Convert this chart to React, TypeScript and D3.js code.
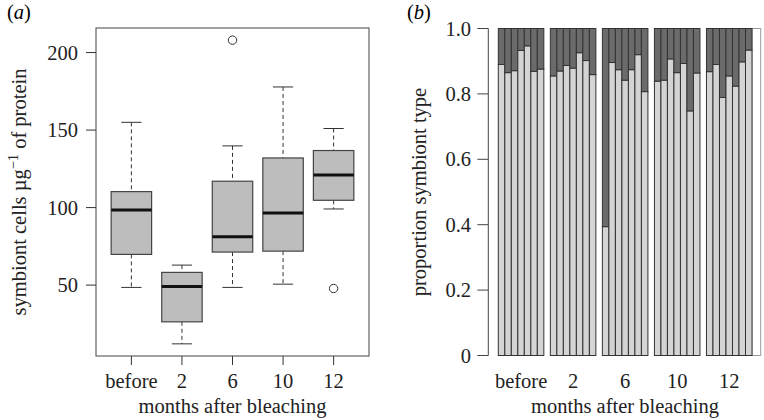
import React from "react";
import * as d3 from "d3";

// Panel (a): box plot statistics
const boxCategories = ["before", "2", "6", "10", "12"];
const boxLowerWhisker = [48.5, 12.1, 48.5, 50.6, 99.1];
const boxQ1 = [69.8, 26.3, 71.3, 71.9, 104.7];
const boxMedian = [98.5, 49.1, 81.2, 96.5, 121];
const boxQ3 = [110.3, 58.2, 117, 132, 136.8];
const boxUpperWhisker = [155, 62.9, 139.8, 177.8, 151];
const boxOutliers: [number, number][] = [
  [2, 208],
  [4, 47.8],
];
const yTicksA = [50, 100, 150, 200];

// Panel (b): proportion of light symbiont type per colony
const groupLabels = ["before", "2", "6", "10", "12"];
const propBefore = [0.89, 0.865, 0.871, 0.933, 0.947, 0.869, 0.876];
const prop2 = [0.855, 0.87, 0.887, 0.879, 0.926, 0.902, 0.859];
const prop6 = [0.394, 0.896, 0.874, 0.842, 0.874, 0.92, 0.807];
const prop10 = [0.839, 0.842, 0.907, 0.865, 0.893, 0.748, 0.864];
const prop12 = [0.868, 0.89, 0.789, 0.855, 0.824, 0.898, 0.934];
const yTicksB = [0, 0.2, 0.4, 0.6, 0.8, 1.0];
const yTickLabelsB = ["0", "0.2", "0.4", "0.6", "0.8", "1.0"];

const FONT = "'Liberation Serif', 'Times New Roman', 'DejaVu Serif', serif";
const FS = 20.5;

function PanelA() {
  const left = 96, right = 369, top = 28, bottom = 356;
  // R-style extended ranges
  const dataMin = 12.1, dataMax = 208;
  const ext = (dataMax - dataMin) * 0.04;
  const y = d3.scaleLinear().domain([dataMin - ext, dataMax + ext]).range([bottom, top]);
  const x = d3.scaleLinear().domain([0.3, 5.7]).range([left, right]);
  const unit = x(1) - x(0);
  const boxHalf = unit * 0.4;
  const capHalf = unit * 0.2;
  return (
    <g>
      <text x={7} y={19} fontFamily={FONT} fontSize={FS}>
        (<tspan fontStyle="italic">a</tspan>)
      </text>
      {boxCategories.map((c, i) => {
        const cx = x(i + 1);
        return (
          <g key={c}>
            <line x1={cx} x2={cx} y1={y(boxUpperWhisker[i])} y2={y(boxQ3[i])} stroke="#333" strokeWidth={1} strokeDasharray="4,3" />
            <line x1={cx} x2={cx} y1={y(boxQ1[i])} y2={y(boxLowerWhisker[i])} stroke="#333" strokeWidth={1} strokeDasharray="4,3" />
            <line x1={cx - capHalf} x2={cx + capHalf} y1={y(boxUpperWhisker[i])} y2={y(boxUpperWhisker[i])} stroke="#333" strokeWidth={1} />
            <line x1={cx - capHalf} x2={cx + capHalf} y1={y(boxLowerWhisker[i])} y2={y(boxLowerWhisker[i])} stroke="#333" strokeWidth={1} />
            <rect x={cx - boxHalf} y={y(boxQ3[i])} width={boxHalf * 2} height={y(boxQ1[i]) - y(boxQ3[i])} fill="#bdbdbd" stroke="#444" strokeWidth={1.2} />
            <line x1={cx - boxHalf} x2={cx + boxHalf} y1={y(boxMedian[i])} y2={y(boxMedian[i])} stroke="#111" strokeWidth={3} />
            <line x1={cx} x2={cx} y1={bottom} y2={bottom + 9} stroke="#333" strokeWidth={1} />
            <text x={cx} y={388} textAnchor="middle" fontFamily={FONT} fontSize={FS} fill="#222">{c}</text>
          </g>
        );
      })}
      {boxOutliers.map(([gi, v], k) => (
        <circle key={k} cx={x(gi + 1)} cy={y(v)} r={4.2} fill="none" stroke="#333" strokeWidth={1} />
      ))}
      <rect x={left} y={top} width={right - left} height={bottom - top} fill="none" stroke="#444" strokeWidth={1} />
      {yTicksA.map((t) => (
        <g key={t}>
          <line x1={left - 10} x2={left} y1={y(t)} y2={y(t)} stroke="#333" strokeWidth={1} />
          <text x={78} y={y(t)} dy="0.35em" textAnchor="end" fontFamily={FONT} fontSize={FS} fill="#222">{t}</text>
        </g>
      ))}
      <text x={(left + right) / 2} y={413} textAnchor="middle" fontFamily={FONT} fontSize={FS} fill="#222">months after bleaching</text>
      <text transform={`translate(26, ${(top + bottom) / 2}) rotate(-90)`} textAnchor="middle" fontFamily={FONT} fontSize={FS} fill="#222">
        symbiont cells µg<tspan fontSize={FS * 0.7} dy={-8}>−1</tspan><tspan dy={8}> of protein</tspan>
      </text>
    </g>
  );
}

function PanelB() {
  const groups = [propBefore, prop2, prop6, prop10, prop12];
  const nSlots = groups.length * 8 - 1;
  const x = d3.scaleBand<number>().domain(d3.range(nSlots)).range([498.3, 752]).padding(0);
  const y = d3.scaleLinear().domain([0, 1]).range([355.5, 28.5]);
  const axisX = 488.3;
  return (
    <g>
      <text x={407} y={19} fontFamily={FONT} fontSize={FS}>
        (<tspan fontStyle="italic">b</tspan>)
      </text>
      <rect x={752} y={y(1)} width={8.7} height={y(0) - y(1)} fill="#fff" stroke="#999" strokeWidth={1} />
      {groups.map((vals, g) =>
        vals.map((v, i) => {
          const slot = g * 8 + i;
          const bx = x(slot)!;
          const bw = x.bandwidth();
          return (
            <g key={`${g}-${i}`}>
              <rect x={bx} y={y(v)} width={bw} height={y(0) - y(v)} fill="#d4d4d4" stroke="#333" strokeWidth={1} />
              <rect x={bx} y={y(1)} width={bw} height={y(v) - y(1)} fill="#6b6b6b" stroke="#333" strokeWidth={1} />
            </g>
          );
        })
      )}
      {groupLabels.map((lab, g) => {
        const cx = x(g * 8)! + x.bandwidth() * 3.5;
        return (
          <text key={lab} x={cx} y={388} textAnchor="middle" fontFamily={FONT} fontSize={FS} fill="#222">{lab}</text>
        );
      })}
      <line x1={axisX} x2={axisX} y1={y(0)} y2={y(1)} stroke="#444" strokeWidth={1} />
      {yTicksB.map((t, k) => (
        <g key={t}>
          <line x1={axisX - 11} x2={axisX} y1={y(t)} y2={y(t)} stroke="#444" strokeWidth={1} />
          <text x={471} y={y(t)} dy="0.35em" textAnchor="end" fontFamily={FONT} fontSize={FS} fill="#222">{yTickLabelsB[k]}</text>
        </g>
      ))}
      <text x={625} y={413} textAnchor="middle" fontFamily={FONT} fontSize={FS} fill="#222">months after bleaching</text>
      <text transform={`translate(426, ${(y(0) + y(1)) / 2}) rotate(-90)`} textAnchor="middle" fontFamily={FONT} fontSize={FS} fill="#222">proportion symbiont type</text>
    </g>
  );
}

export default function App() {
  return (
    <svg width={764} height={420} style={{ display: "block", position: "absolute", left: 0, top: 0, background: "#fff" }}>
      <rect width={764} height={420} fill="#fff" />
      <PanelA />
      <PanelB />
    </svg>
  );
}
